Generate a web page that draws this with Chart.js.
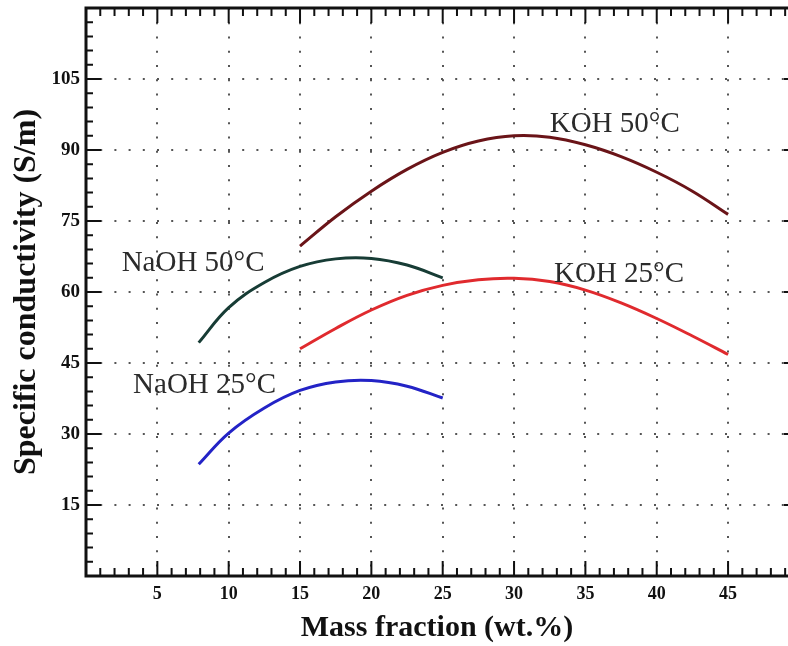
<!DOCTYPE html>
<html>
<head>
<meta charset="utf-8">
<script src="https://cdn.jsdelivr.net/npm/chart.js@4.4.1/dist/chart.umd.min.js"></script>
<style>
    html, body { margin: 0; padding: 0; background: #fff; }
    #wrap { width: 788px; height: 646px; }
</style>
</head>
<body>
<div id="wrap"><canvas id="chart" width="788" height="646"></canvas></div>
<script>
// データ
const kohX = [15, 17.5, 20, 22.5, 25, 27.5, 30, 32.5, 35, 37.5, 40, 42.5, 45];
const koh50 = [69.7, 75.9, 81.3, 85.9, 89.5, 91.9, 93.0, 92.7, 91.1, 88.6, 85.3, 81.3, 76.4];
const koh25 = [48.0, 52.3, 56.2, 59.3, 61.4, 62.6, 62.9, 62.2, 60.4, 57.7, 54.4, 50.7, 46.8];

const naohX = [7.9, 10, 12.5, 15, 17.5, 20, 22.5, 25];
const naoh50 = [49.3, 56.7, 62.0, 65.4, 67.0, 67.1, 65.7, 63.0];
const naoh25 = [23.6, 30.2, 35.5, 39.2, 41.0, 41.3, 40.1, 37.6];

const seriesNames = ['KOH 50°C', 'KOH 25°C', 'NaOH 50°C', 'NaOH 25°C'];
// ラベル位置（データ座標、文字列の左端・ベースライン）
const labelX = [32.5, 32.8, 2.5, 3.3];
const labelY = [93.8, 62.2, 64.4, 38.7];

const xTicks = [5, 10, 15, 20, 25, 30, 35, 40, 45];
const yTicks = [15, 30, 45, 60, 75, 90, 105];

const serif = '"Liberation Serif", "Times New Roman", serif';

function toPoints(xs, ys) {
    return xs.map((x, i) => ({ x: x, y: ys[i] }));
}

function line(label, xs, ys, color) {
    return {
        label: label,
        data: toPoints(xs, ys),
        showLine: true,
        borderColor: color,
        backgroundColor: color,
        borderWidth: 3,
        pointRadius: 0,
        tension: 0.4
    };
}

// 目盛りラベル分の余白を消す
function noPad(s) {
    s.paddingTop = 0;
    s.paddingBottom = 0;
    s.paddingLeft = 0;
    s.paddingRight = 0;
}

// 枠と内向き目盛り、曲線ラベル
const framePlugin = {
    id: 'frame',
    afterDraw(chart) {
        const { ctx, chartArea: a, scales: { x, y } } = chart;
        ctx.save();
        ctx.strokeStyle = '#111';
        ctx.lineWidth = 2;
        ctx.beginPath();
        for (let v = 1; v <= Math.floor(x.max); v++) {
            const px = x.getPixelForValue(v);
            const len = v % 5 === 0 ? 15 : 8;
            ctx.moveTo(px, a.bottom); ctx.lineTo(px, a.bottom - len);
            ctx.moveTo(px, a.top); ctx.lineTo(px, a.top + len);
        }
        for (let v = 3; v < y.max; v += 3) {
            const py = y.getPixelForValue(v);
            const len = v % 15 === 0 ? 15 : 7;
            ctx.moveTo(a.left, py); ctx.lineTo(a.left + len, py);
            if (v % 15 === 0) { ctx.moveTo(a.right, py); ctx.lineTo(a.right - 4, py); }
        }
        ctx.stroke();

        ctx.lineWidth = 3;
        ctx.beginPath();
        ctx.moveTo(a.right, a.top);
        ctx.lineTo(a.left, a.top);
        ctx.lineTo(a.left, a.bottom);
        ctx.lineTo(a.right, a.bottom);
        ctx.stroke();

        ctx.fillStyle = '#2b2b2b';
        ctx.font = '29px ' + serif;
        ctx.textBaseline = 'alphabetic';
        ctx.textAlign = 'left';
        seriesNames.forEach((name, i) => {
            ctx.fillText(name, x.getPixelForValue(labelX[i]), y.getPixelForValue(labelY[i]));
        });
        ctx.restore();
    }
};

new Chart(document.getElementById('chart'), {
    type: 'scatter',
    data: {
        datasets: [
            line(seriesNames[0], kohX, koh50, '#6a1418'),
            line(seriesNames[1], kohX, koh25, '#e02a2e'),
            line(seriesNames[2], naohX, naoh50, '#173c35'),
            line(seriesNames[3], naohX, naoh25, '#2323c6')
        ]
    },
    options: {
        responsive: false,
        animation: false,
        layout: { padding: { top: 8, right: 0, left: 0, bottom: 0 } },
        plugins: {
            legend: { display: false },
            tooltip: { enabled: false }
        },
        scales: {
            x: {
                type: 'linear',
                min: 0,
                max: 49.2,
                afterFit: s => { s.height = 70; noPad(s); },
                afterBuildTicks: s => { s.ticks = xTicks.map(v => ({ value: v })); },
                ticks: {
                    padding: 8,
                    color: '#111',
                    font: { family: serif, size: 18, weight: 'bold' }
                },
                grid: { color: '#555', lineWidth: 2, drawTicks: false },
                border: { display: false, dash: [2, 12.27] },
                title: {
                    display: true,
                    text: 'Mass fraction (wt.%)',
                    color: '#111',
                    font: { family: serif, size: 30, weight: 'bold' },
                    padding: { top: 0, bottom: 0 }
                }
            },
            y: {
                type: 'linear',
                min: 0,
                max: 120,
                afterFit: s => { s.width = 86; noPad(s); },
                afterBuildTicks: s => { s.ticks = yTicks.map(v => ({ value: v })); },
                ticks: {
                    padding: 6,
                    color: '#111',
                    font: { family: serif, size: 19, weight: 'bold' }
                },
                grid: { color: '#555', lineWidth: 2, drawTicks: false },
                border: { display: false, dash: [2, 12.2] },
                title: {
                    display: true,
                    text: 'Specific conductivity (S/m)',
                    color: '#111',
                    font: { family: serif, size: 32, weight: 'bold' },
                    padding: { top: 8, bottom: 0 }
                }
            }
        }
    },
    plugins: [framePlugin]
});
</script>
</body>
</html>
